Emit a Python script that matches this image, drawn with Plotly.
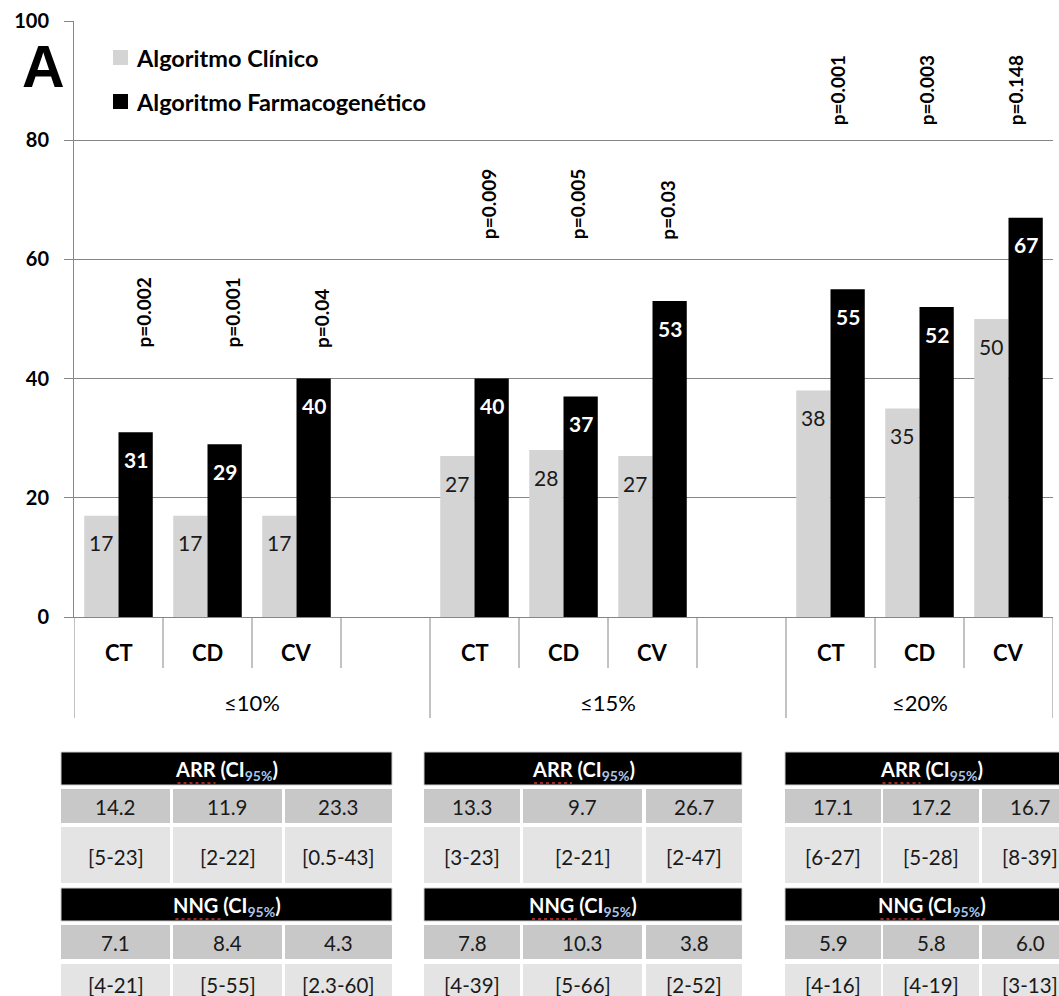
import plotly.graph_objects as go

# ---------------- data ----------------
groups = ["≤10%", "≤15%", "≤20%"]
metrics = ["CT", "CD", "CV"]

# % of patients per algorithm
clinico = [[17, 17, 17], [27, 28, 27], [38, 35, 50]]
farmaco = [[31, 29, 40], [40, 37, 53], [55, 52, 67]]
p_values = [["p=0.002", "p=0.001", "p=0.04"],
            ["p=0.009", "p=0.005", "p=0.03"],
            ["p=0.001", "p=0.003", "p=0.148"]]

# summary tables below the chart
arr = [[14.2, 11.9, 23.3], [13.3, 9.7, 26.7], [17.1, 17.2, 16.7]]
arr_ci = [["[5-23]", "[2-22]", "[0.5-43]"],
          ["[3-23]", "[2-21]", "[2-47]"],
          ["[6-27]", "[5-28]", "[8-39]"]]
nng = [[7.1, 8.4, 4.3], [7.8, 10.3, 3.8], [5.9, 5.8, 6.0]]
nng_ci = [["[4-21]", "[5-55]", "[2.3-60]"],
          ["[4-39]", "[5-66]", "[2-52]"],
          ["[4-16]", "[4-19]", "[3-13]"]]

y_ticks = [0, 20, 40, 60, 80, 100]

# ---------------- layout constants ----------------
W, H = 1059, 996
PL, PR, PT, PB = 74, 1053, 21, 617        # plot area in pixels
FONT = "Lato"
GRID = "#868686"
LIGHT = "#d4d4d4"
BAR_W = 0.385


def fx(px):
    return (px - PL) / (PR - PL)


def fy(py):
    return (PB - py) / (PB - PT)


def note(**kw):
    kw.setdefault("showarrow", False)
    kw.setdefault("xanchor", "center")
    kw.setdefault("yanchor", "middle")
    return dict(**kw)


# ---------------- categories (with an empty slot after the first two groups) ----------------
x_grp, x_cat, y_cli, y_far, cat_index = [], [], [], [], []
for g, grp in enumerate(groups):
    for m, met in enumerate(metrics):
        cat_index.append((g, m, len(x_grp)))
        x_grp.append(grp)
        x_cat.append(met)
        y_cli.append(clinico[g][m])
        y_far.append(farmaco[g][m])
    if g < len(groups) - 1:
        x_grp.append(grp)
        x_cat.append(" ")
        y_cli.append(None)
        y_far.append(None)
n_slots = len(x_grp)

fig = go.Figure()
fig.add_trace(go.Bar(x=[x_grp, x_cat], y=y_cli, name="Algoritmo Clínico",
                     marker=dict(color=LIGHT, line=dict(width=0)),
                     width=BAR_W, offset=-BAR_W, showlegend=False))
fig.add_trace(go.Bar(x=[x_grp, x_cat], y=y_far, name="Algoritmo Farmacogenético",
                     marker=dict(color="#000000", line=dict(width=0)),
                     width=BAR_W, offset=0, showlegend=False))

annotations = []
shapes = []

# value labels inside bars and p-values above each pair
p_shift = [8, -3, -10]
p_base = [44.8, 63.0, 82.1]
for g, m, i in cat_index:
    annotations.append(note(x=i - BAR_W / 2, y=clinico[g][m], xref="x", yref="y",
                            text=str(clinico[g][m]), yshift=-27,
                            font=dict(family=FONT, size=21, color="#1a1a1a")))
    annotations.append(note(x=i + BAR_W / 2, y=farmaco[g][m], xref="x", yref="y",
                            text="<b>%d</b>" % farmaco[g][m], yshift=-27,
                            font=dict(family=FONT, size=21, color="#ffffff")))
    annotations.append(note(x=i + BAR_W / 2, y=p_base[g], xref="x", yref="y",
                            text="<b>%s</b>" % p_values[g][m],
                            textangle=-90, yanchor="bottom", xshift=p_shift[g],
                            font=dict(family=FONT, size=19, color="#000000")))
    # category label
    annotations.append(note(x=i, y=fy(652), xref="x", yref="paper",
                            text="<b>%s</b>" % metrics[m],
                            font=dict(family=FONT, size=22, color="#000000")))

# group labels and axis separators
slot = 0
tick_y0, tick_y1, div_y1 = fy(PB), fy(668), fy(718)
group_bounds = []
for g, grp in enumerate(groups):
    n = sum(1 for k in x_grp if k == grp)
    lo, hi = slot - 0.5, slot + n - 0.5
    group_bounds.append((lo, hi))
    annotations.append(note(x=(lo + hi) / 2, y=fy(702), xref="x", yref="paper",
                            text=grp, font=dict(family=FONT, size=22, color="#000000")))
    for k in range(1, n):
        shapes.append(dict(type="line", xref="x", yref="paper",
                           x0=lo + k, x1=lo + k, y0=tick_y0, y1=tick_y1,
                           line=dict(color=GRID, width=1)))
    slot += n
edges = sorted(set([b for pair in group_bounds for b in pair]))
for e in edges:
    shapes.append(dict(type="line", xref="x", yref="paper", x0=e, x1=e,
                       y0=tick_y0, y1=div_y1, line=dict(color=GRID, width=1)))

# panel letter
annotations.append(note(x=fx(43), y=fy(67), xref="paper", yref="paper", text="<b>A</b>",
                        font=dict(family="Liberation Sans", size=59, color="#000000")))

# legend
legend_rows = [("Algoritmo Clínico", LIGHT, 57.5), ("Algoritmo Farmacogenético", "#000000", 101.5)]
for label, col, yc in legend_rows:
    shapes.append(dict(type="rect", xref="paper", yref="paper",
                       x0=fx(113), x1=fx(128), y0=fy(yc - 7.5), y1=fy(yc + 7.5),
                       fillcolor=col, line=dict(width=0)))
    annotations.append(note(x=fx(134), y=fy(yc), xref="paper", yref="paper",
                            text="<b>%s</b>" % label, xanchor="left",
                            font=dict(family=FONT, size=23.5, color="#000000")))

# ---------------- tables ----------------
table_cols = [[(61, 170), (173, 282), (285, 392)],
              [(424, 520), (523, 642), (646, 742)],
              [(785, 881), (883, 979), (982, 1078)]]
bands = [(752, 785), (789, 823), (827, 883), (888, 921), (925, 959), (964, 1020)]
text_y = [770, 807, 857, 906, 943, 985]
band_fill = ["#000000", "#c8c8c8", "#e4e4e4", "#000000", "#c8c8c8", "#e4e4e4"]
headers = ["ARR", "NNG"]
squiggle = [(-49, -11), (-51, -6)]

for t in range(3):
    cols = table_cols[t]
    left, right = cols[0][0], cols[-1][1]
    rows = [None,
            ["%.1f" % v for v in arr[t]],
            arr_ci[t],
            None,
            ["%.1f" % v for v in nng[t]],
            nng_ci[t]]
    hidx = 0
    for r, (y0, y1) in enumerate(bands):
        if rows[r] is None:
            shapes.append(dict(type="rect", xref="paper", yref="paper",
                               x0=fx(left), x1=fx(right), y0=fy(y1), y1=fy(y0),
                               fillcolor=band_fill[r], line=dict(color="#d0d0d0", width=1)))
            cx = (left + right) / 2
            annotations.append(note(
                x=fx(cx), y=fy(text_y[r]), xref="paper", yref="paper",
                text="<b>%s (CI<sub><span style='color:#a8c6ec'>95%%</span></sub>)</b>" % headers[hidx],
                font=dict(family=FONT, size=20, color="#ffffff")))
            s0, s1 = squiggle[hidx]
            shapes.append(dict(type="line", xref="paper", yref="paper",
                               x0=fx(cx + s0), x1=fx(cx + s1),
                               y0=fy(y1 - 2), y1=fy(y1 - 2),
                               line=dict(color="#d03030", width=1.5, dash="dot")))
            hidx += 1
        else:
            for c, (x0, x1) in enumerate(cols):
                shapes.append(dict(type="rect", xref="paper", yref="paper",
                                   x0=fx(x0), x1=fx(x1), y0=fy(y1), y1=fy(y0),
                                   fillcolor=band_fill[r], line=dict(width=0)))
                annotations.append(note(x=fx((x0 + x1) / 2), y=fy(text_y[r]),
                                        xref="paper", yref="paper", text=rows[r][c],
                                        font=dict(family=FONT, size=20.5, color="#1a1a1a")))

fig.update_layout(
    width=W, height=H,
    margin=dict(l=PL, r=W - PR, t=PT, b=H - PB, pad=0, autoexpand=False),
    paper_bgcolor="#ffffff", plot_bgcolor="#ffffff",
    barmode="overlay",
    showlegend=False,
    xaxis=dict(type="multicategory", showticklabels=False, showdividers=False,
               ticks="", showgrid=False, zeroline=False, automargin=False,
               showline=True, linecolor=GRID, linewidth=1,
               range=[-0.5, n_slots - 0.5]),
    yaxis=dict(range=[0, 100], tickvals=y_ticks, showgrid=True, gridcolor=GRID, gridwidth=1,
               zeroline=False, showline=True, linecolor=GRID, linewidth=1, automargin=False,
               ticks="outside", ticklen=9, tickcolor=GRID, ticklabelstandoff=11,
               tickfont=dict(family=FONT, size=20, color="#000000", weight="bold")),
    annotations=annotations,
    shapes=shapes,
)

fig.write_html("out.html")
